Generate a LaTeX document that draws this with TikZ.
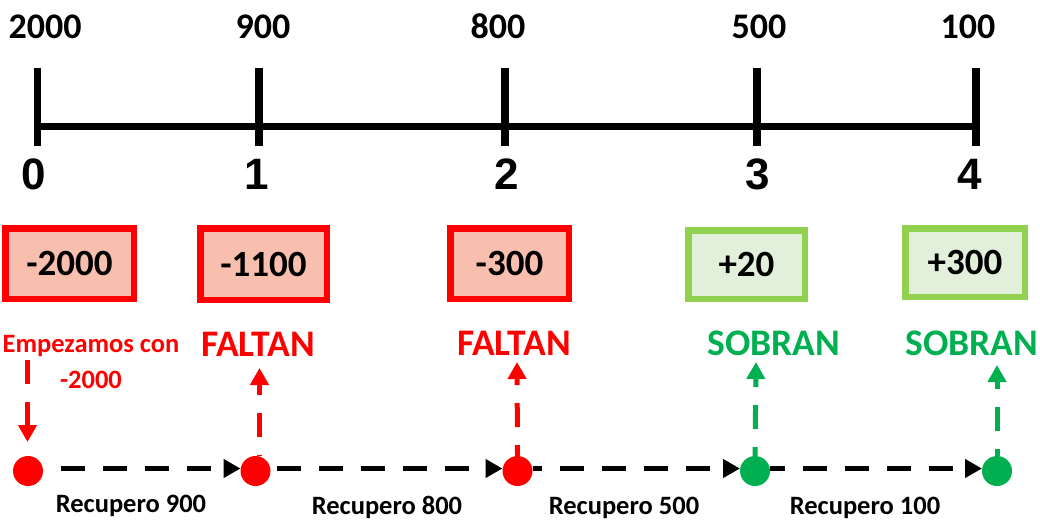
\documentclass[tikz,border=0pt]{standalone}
\usepackage{fontspec}
\setmainfont{Carlito}
\newfontfamily\digitfont{Liberation Sans}
\usetikzlibrary{arrows.meta}
\definecolor{lossred}{HTML}{FF0000}
\definecolor{lossfill}{HTML}{F8BFAE}
\definecolor{gainline}{HTML}{92D050}
\definecolor{gainfill}{HTML}{E2EFDA}
\definecolor{gaingreen}{HTML}{00B050}
\begin{document}
\begin{tikzpicture}[x=1pt,y=-1pt,
  every node/.style={inner sep=0pt,outer sep=0pt},
  topnum/.style={anchor=base,font=\bfseries\fontsize{36}{40}\selectfont},
  period/.style={anchor=base,font=\digitfont\bfseries\fontsize{44}{48}\selectfont},
  balance/.style={draw,line width=6.5pt,font=\bfseries\fontsize{37}{40}\selectfont},
  lossbox/.style={balance,draw=lossred,fill=lossfill},
  gainbox/.style={balance,draw=gainline,fill=gainfill},
  status/.style={anchor=base,font=\bfseries\fontsize{37.5}{40}\selectfont},
  recover/.style={anchor=base,font=\bfseries\fontsize{26.5}{30}\selectfont},
  dot/.style={circle,minimum size=30pt},
  flow/.style={line width=5pt,dash pattern=on 24pt off 18pt,
    -{Triangle[width=18pt,length=17pt]}},
  level/.style={yshift=2.5pt},
]
\useasboundingbox (0,0) rectangle (1040,520);

% time axis
\coordinate (t0) at (37.5,126.5);
\coordinate (t1) at (259,126.5);
\coordinate (t2) at (505,126.5);
\coordinate (t3) at (757,126.5);
\coordinate (t4) at (976,126.5);
\draw[line width=6.5pt] (t0) -- (t4);
\foreach \t in {t0,t1,t2,t3,t4}
  \draw[line width=7.5pt] ([yshift=58.5pt]\t) -- ([yshift=-19.5pt]\t);

% amounts above the axis
\node[topnum] (a0) at (45,38) {2000};
\node[topnum] (a1) at (263,38) {900};
\node[topnum] (a2) at (498,38) {800};
\node[topnum] (a3) at (759,38) {500};
\node[topnum] (a4) at (968,38) {100};

% periods below the axis
\node[period] (p0) at (34,189) {0};
\node[period] (p1) at (257,189) {1};
\node[period] (p2) at (507,189) {2};
\node[period] (p3) at (758,189) {3};
\node[period] (p4) at (970,189) {4};

% running balances
\node[lossbox,minimum width=128.5pt,minimum height=70.5pt] (b0) at (69.5,263.5) {-2000};
\node[lossbox,minimum width=126.5pt,minimum height=71.5pt] (b1) at (263.5,264) {-1100};
\node[lossbox,minimum width=118.5pt,minimum height=70.5pt] (b2) at (509.5,263.5) {-300};
\node[gainbox,minimum width=116.5pt,minimum height=68.5pt] (b3) at (746.5,264.5) {+20};
\node[gainbox,minimum width=119.5pt,minimum height=68.5pt] (b4) at (965,262.5) {+300};

% status labels
\node[anchor=north,align=center,text=lossred,font=\bfseries\fontsize{26.5}{36}\selectfont]
  (start) at (91,335) {Empezamos con\\-2000};
\node[status,text=lossred] (s1) at (258,356) {FALTAN};
\node[status,text=lossred] (s2) at (514,355) {FALTAN};
\node[status,text=gaingreen] (s3) at (774,355) {SOBRAN};
\node[status,text=gaingreen] (s4) at (972,355) {SOBRAN};

% cash-flow points
\node[dot,fill=lossred] (d0) at (28,471) {};
\node[dot,fill=lossred] (d1) at (255.5,471) {};
\node[dot,fill=lossred] (d2) at (517.5,471) {};
\node[dot,fill=gaingreen] (d3) at (755,471) {};
\node[dot,fill=gaingreen] (d4) at (997,471) {};

% recoveries between points
\draw[flow,dash phase=24pt] ([level]d0.east) -- ([level]d1.west);
\draw[flow,dash phase=36pt] ([level]d1.east) -- ([level]d2.west);
\draw[flow,dash phase=14.5pt] ([level]d2.east) -- ([level]d3.west);
\draw[flow,dash phase=9pt] ([level]d3.east) -- ([level]d4.west);

\node[recover] (r1) at (131,512) {Recupero 900};
\node[recover] (r2) at (387,514.5) {Recupero 800};
\node[recover] (r3) at (624,514.5) {Recupero 500};
\node[recover] (r4) at (865,514.5) {Recupero 100};

% vertical pointers
\coordinate (v0) at (27.5,360);
\coordinate (e0) at (27.5,442);
\draw[flow,color=lossred] (v0) -- (e0);
\coordinate (e1) at (259.5,368);
\draw[flow,color=lossred,dash phase=23pt] (d1.north -| e1) -- (e1);
\coordinate (e2) at (517,362);
\draw[flow,color=lossred,dash phase=13pt] (d2.north) -- (e2);
\coordinate (e3) at (756,362);
\draw[flow,color=gaingreen,dash phase=15pt] (d3.north) -- (e3);
\coordinate (e4) at (997,365);
\draw[flow,color=gaingreen,dash phase=17pt] (d4.north) -- (e4);
\end{tikzpicture}
\end{document}
